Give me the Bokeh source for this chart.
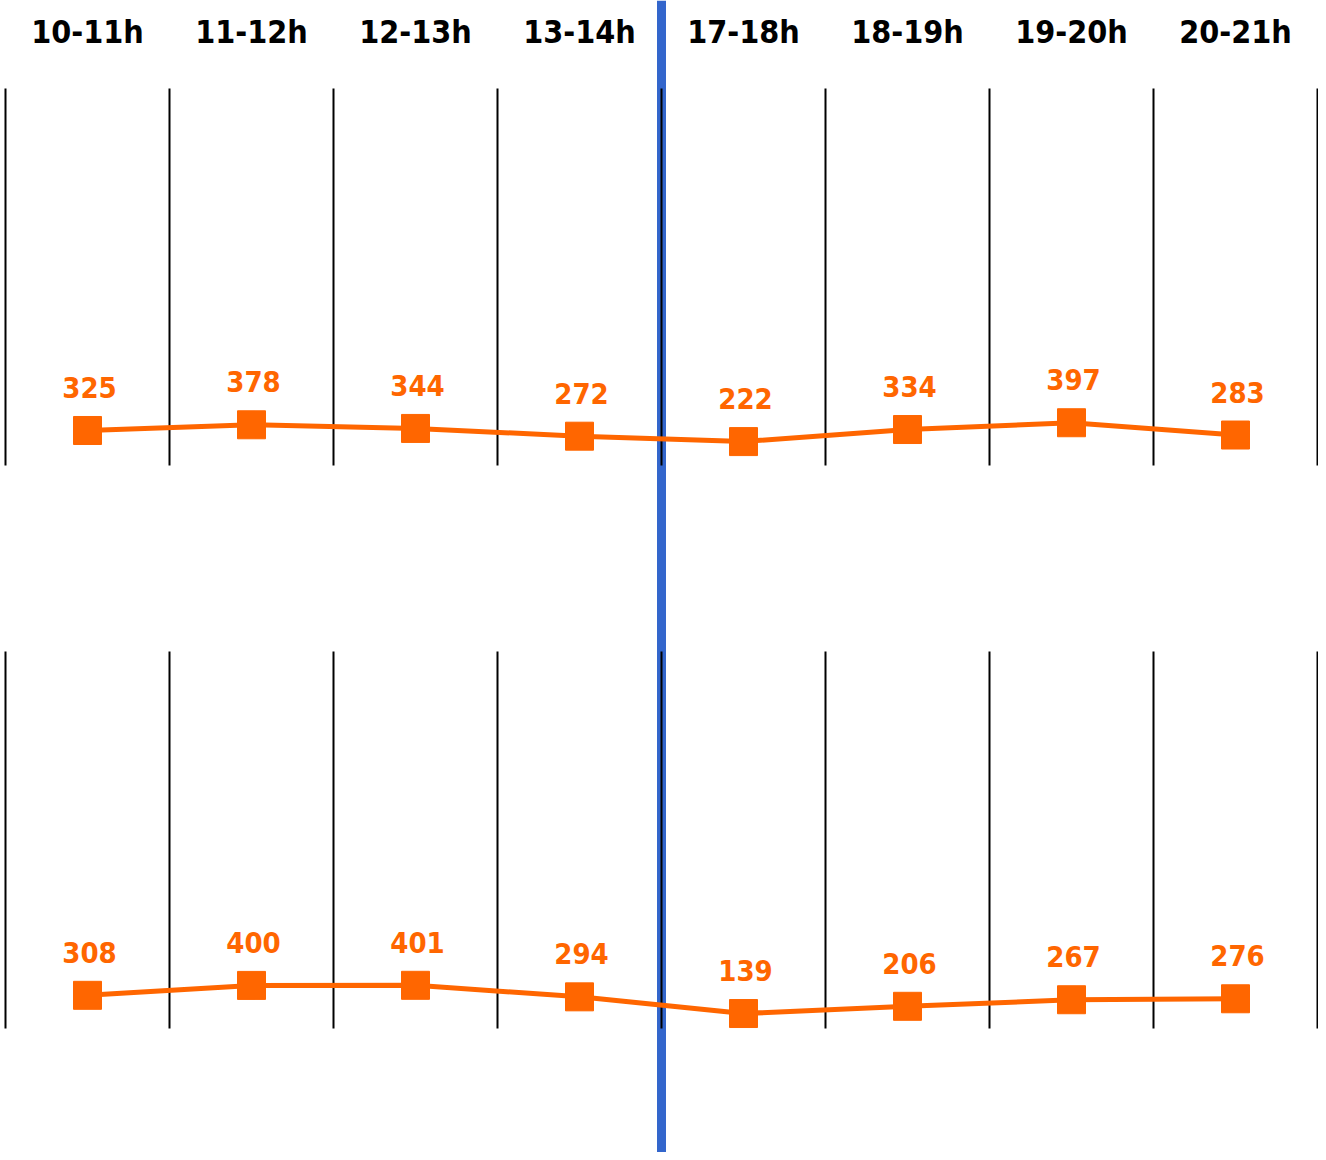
from bokeh.plotting import figure
from bokeh.models import Range1d, ColumnDataSource, Span
from bokeh.core.properties import value
from bokeh.embed import file_html
from bokeh.resources import INLINE

# ---- data ----
categories = ["10-11h", "11-12h", "12-13h", "13-14h", "17-18h", "18-19h", "19-20h", "20-21h"]
top_values = [325, 378, 344, 272, 222, 334, 397, 283]
bottom_values = [308, 400, 401, 294, 139, 206, 267, 276]
panel_max = 3500

# ---- layout (pixel geometry) ----
W, H = 1318, 1152
top_zero_px, top_max_px = 465, 88
bot_zero_px, bot_max_px = 1028, 651
header_px = 31
div_left_px, div_right_px = 5, 1317

def make_range(zero_px, max_px):
    upp = panel_max / (zero_px - max_px)  # units per pixel
    start = -(H - zero_px) * upp
    end = panel_max + max_px * upp
    return Range1d(start, end), upp

top_range, upp_top = make_range(top_zero_px, top_max_px)
bot_range, upp_bot = make_range(bot_zero_px, bot_max_px)

n = len(categories)
xupp = n / (div_right_px - div_left_px)
x_range = Range1d(-0.5 - div_left_px * xupp, n - 0.5 + (W - div_right_px) * xupp)

p = figure(width=W, height=H, output_backend="svg", toolbar_location=None,
           x_range=x_range, y_range=top_range,
           min_border=0, outline_line_color=None)
p.extra_y_ranges = {"bot": bot_range}
p.xaxis.visible = False
p.yaxis.visible = False
p.xgrid.visible = False
p.ygrid.visible = False
p.background_fill_color = "white"
p.border_fill_color = "white"

ORANGE = "#FF6600"
BLUE = "#3366CC"
xs = list(range(n))

# blue separator between sessions
blue = Span(location=(n / 2) - 0.5, dimension="height", line_color=BLUE,
            line_width=9, level="underlay")
p.add_layout(blue)

# column dividers
div_x = [k - 0.5 for k in range(n + 1)]
for rng in ["default", "bot"]:
    p.segment(x0=div_x, x1=div_x, y0=[0] * len(div_x), y1=[panel_max] * len(div_x),
              line_color="black", line_width=2, y_range_name=rng)

# headers
header_y = panel_max + (top_max_px - header_px) * upp_top
p.text(x=xs, y=[header_y] * n, text=categories, text_align="center",
       text_baseline="middle", text_font=value("DejaVu Sans Condensed"),
       text_font_style="bold", text_font_size="32px", text_color="black")

for vals, rng in [(top_values, "default"), (bottom_values, "bot")]:
    src = ColumnDataSource(dict(x=xs, y=vals, lab=[str(v) for v in vals]))
    p.line("x", "y", source=src, line_color=ORANGE, line_width=5, y_range_name=rng)
    p.scatter("x", "y", source=src, marker="square", size=28, fill_color=ORANGE,
              line_color=ORANGE, y_range_name=rng)
    p.text("x", "y", text="lab", source=src, y_offset=-43, x_offset=2,
           text_align="center", text_baseline="middle",
           text_font=value("DejaVu Sans Condensed"), text_font_style="bold",
           text_font_size="29px", text_color=ORANGE, y_range_name=rng)

open("out.html", "w").write(file_html(p, INLINE))
